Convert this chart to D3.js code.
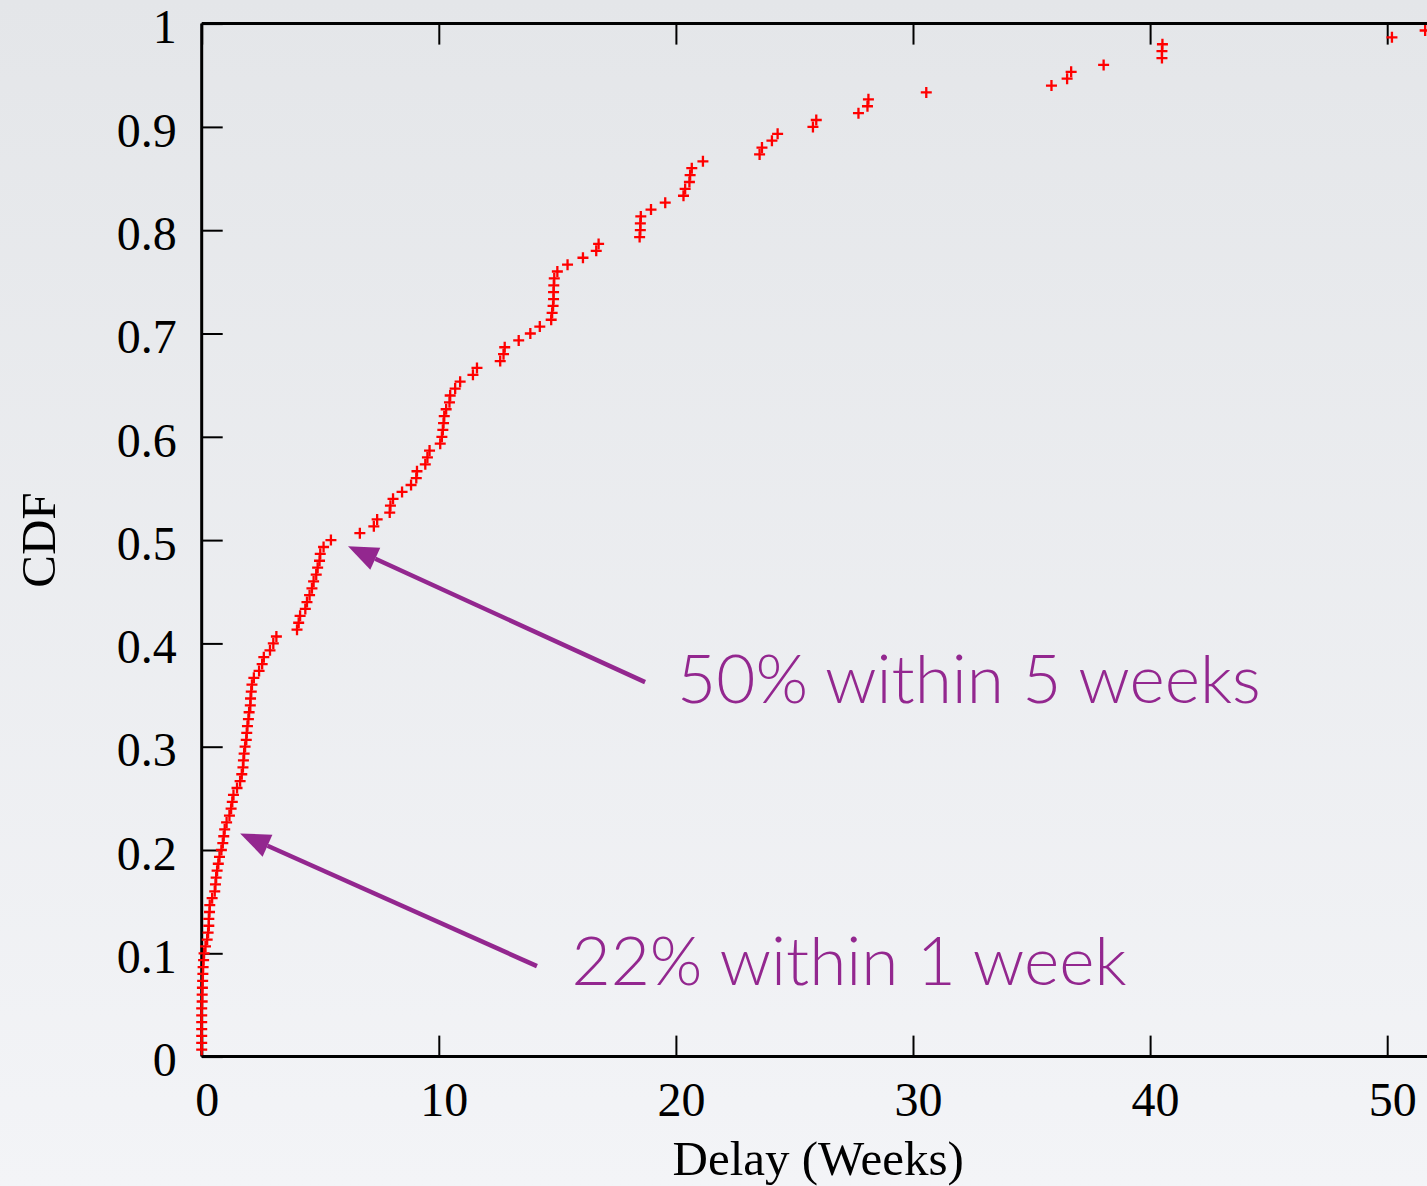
<!DOCTYPE html>
<html>
<head>
<meta charset="utf-8">
<script src="https://cdn.jsdelivr.net/npm/d3@7"></script>
<style>
  html, body { margin: 0; padding: 0; }
  body { width: 1427px; height: 1186px; overflow: hidden; }
  svg { display: block; }
</style>
</head>
<body>
<svg id="chart" width="1427" height="1186"></svg>
<script>
// ---- data (sorted delays in weeks; CDF = rank / count) ----
const delays = [
  0.0, 0.0, 0.0, 0.0, 0.0, 0.0, 0.0, 0.02, 0.02, 0.03,
  0.04, 0.05, 0.06, 0.08, 0.10, 0.16, 0.23, 0.27, 0.30, 0.30,
  0.33, 0.34, 0.44, 0.55, 0.58, 0.61, 0.65, 0.70, 0.75, 0.83,
  0.89, 0.93, 0.97, 1.05, 1.17, 1.24, 1.29, 1.34, 1.49, 1.62,
  1.69, 1.74, 1.76, 1.79, 1.83, 1.88, 1.90, 1.93, 1.97, 2.00,
  2.05, 2.06, 2.09, 2.12, 2.20, 2.42, 2.55, 2.62, 2.88, 3.02,
  3.15, 4.02, 4.09, 4.15, 4.37, 4.44, 4.55, 4.65, 4.72, 4.83,
  4.89, 4.97, 5.00, 5.14, 5.45, 6.67, 7.26, 7.40, 7.93, 7.96,
  8.07, 8.45, 8.83, 9.05, 9.08, 9.43, 9.52, 9.61, 10.06, 10.13,
  10.17, 10.20, 10.23, 10.31, 10.45, 10.48, 10.69, 10.90, 11.44, 11.61,
  12.59, 12.73, 12.78, 13.37, 13.86, 14.26, 14.74, 14.78, 14.82, 14.84,
  14.84, 14.85, 14.87, 15.00, 15.43, 16.08, 16.64, 16.74, 18.47, 18.50,
  18.50, 18.52, 18.95, 19.55, 20.32, 20.39, 20.57, 20.60, 20.67, 21.14,
  23.53, 23.63, 24.05, 24.29, 25.78, 25.92, 27.70, 28.08, 28.12, 30.56,
  35.84, 36.50, 36.67, 38.04, 40.50, 40.50, 40.52, 50.20, 51.60, 53.00
];
const xTicks = [0, 10, 20, 30, 40, 50];
const yTicks = [0, 0.1, 0.2, 0.3, 0.4, 0.5, 0.6, 0.7, 0.8, 0.9, 1];
const xDomain = [0, 52];
const yDomain = [0, 1];
const xTitle = "Delay (Weeks)";
const yTitle = "CDF";
// annotation texts with the data points their arrows point to / start from
const noteTexts = ["50% within 5 weeks", "22% within 1 week"];
const noteTips  = [[6.17, 0.494], [1.62, 0.216]];
const noteTails = [[18.7, 0.3625], [14.14, 0.0876]];
const noteAnchors = [[20.05, 0.342], [15.6, 0.069]];

(function () {
// ---- layout ----
const W = 1427, H = 1186;
const mLeft = 201.7, mTop = 23.6, plotH = 1033, pxPerWeek = 23.71;
const svg = d3.select("#chart");

const defs = svg.append("defs");
const grad = defs.append("linearGradient").attr("id", "bg")
  .attr("x1", 0).attr("y1", 0).attr("x2", 0).attr("y2", 1);
grad.append("stop").attr("offset", "0%").attr("stop-color", "#e4e6e9");
grad.append("stop").attr("offset", "100%").attr("stop-color", "#f3f4f7");
svg.append("rect").attr("width", W).attr("height", H).attr("fill", "url(#bg)");

const x = d3.scaleLinear().domain(xDomain)
  .range([mLeft, mLeft + (xDomain[1] - xDomain[0]) * pxPerWeek]);
const y = d3.scaleLinear().domain(yDomain).range([mTop + plotH, mTop]);

const n = delays.length;
const points = delays.map((d, i) => ({ x: d, y: (i + 1) / n }));

const serif = "'Liberation Serif', 'Times New Roman', 'DejaVu Serif', serif";
const tickLen = 21;

const fmtY = d => (d === 0 ? "0" : d === 1 ? "1" : d3.format(".1f")(d));

const gx = svg.append("g").attr("transform", `translate(0,${y(0)})`)
  .call(d3.axisBottom(x).tickValues(xTicks).tickSize(-tickLen).tickPadding(25).tickFormat(d3.format("d")));
const gxTop = svg.append("g").attr("transform", `translate(0,${y(1)})`)
  .call(d3.axisTop(x).tickValues(xTicks).tickSize(-tickLen).tickFormat(""));
const gy = svg.append("g").attr("transform", `translate(${x(0)},0)`)
  .call(d3.axisLeft(y).tickValues(yTicks).tickSize(-tickLen).tickPadding(25).tickFormat(fmtY));

[gx, gxTop, gy].forEach(g => {
  g.select(".domain").attr("stroke", "#000").attr("stroke-width", 3);
  g.selectAll(".tick line").attr("stroke", "#000").attr("stroke-width", 2);
  g.selectAll(".tick text").attr("fill", "#000")
    .style("font-family", serif).style("font-size", "48px");
});
gx.selectAll(".tick text").attr("dx", 5).attr("dy", "0.71em");
gy.selectAll(".tick text").attr("dy", "0.40em");
gx.select(".domain").attr("d", `M${x(0)},0H${x(xDomain[1])}`);
gxTop.select(".domain").attr("d", `M${x(0)},0H${x(xDomain[1])}`);
gy.select(".domain").attr("d", `M0,${y(0)}V${y(1)}`);

// axis titles
svg.append("text")
  .attr("x", (x.range()[0] + x.range()[1]) / 2).attr("y", 1175)
  .attr("text-anchor", "middle")
  .style("font-family", serif).style("font-size", "49px").attr("fill", "#000")
  .text(xTitle);
svg.append("text")
  .attr("transform", `translate(55,${(y(0) + y(1)) / 2}) rotate(-90)`)
  .attr("text-anchor", "middle")
  .style("font-family", serif).style("font-size", "49px").attr("fill", "#000")
  .text(yTitle);

// plus markers
const arm = 5.5;
const marks = svg.append("g").attr("stroke", "#ff0000").attr("stroke-width", 2.3);
marks.selectAll("path").data(points).join("path")
  .attr("d", d => {
    const cx = x(d.x), cy = y(d.y);
    return `M${cx - arm},${cy}H${cx + arm}M${cx},${cy - arm}V${cy + arm}`;
  });

// annotations
const purple = "#93278f";
const notes = svg.append("g");
noteTexts.forEach((t, i) => {
  const tip = [x(noteTips[i][0]), y(noteTips[i][1])];
  const tail = [x(noteTails[i][0]), y(noteTails[i][1])];
  const ang = Math.atan2(tail[1] - tip[1], tail[0] - tip[0]);
  const headLen = 30, headHalf = 12;
  const bx = tip[0] + headLen * Math.cos(ang), by = tip[1] + headLen * Math.sin(ang);
  notes.append("line")
    .attr("x1", tail[0]).attr("y1", tail[1]).attr("x2", bx).attr("y2", by)
    .attr("stroke", purple).attr("stroke-width", 4.5);
  const px = -Math.sin(ang), py = Math.cos(ang);
  notes.append("path")
    .attr("d", `M${tip[0]},${tip[1]}L${bx + headHalf * px},${by + headHalf * py}L${bx - headHalf * px},${by - headHalf * py}Z`)
    .attr("fill", purple);
  notes.append("text")
    .attr("x", x(noteAnchors[i][0])).attr("y", y(noteAnchors[i][1]))
    .style("font-family", "Lato, 'Open Sans', 'Noto Sans', sans-serif")
    .style("font-weight", 300).style("font-size", "67.5px")
    .attr("fill", purple)
    .text(t);
});
})();
</script>
</body>
</html>
